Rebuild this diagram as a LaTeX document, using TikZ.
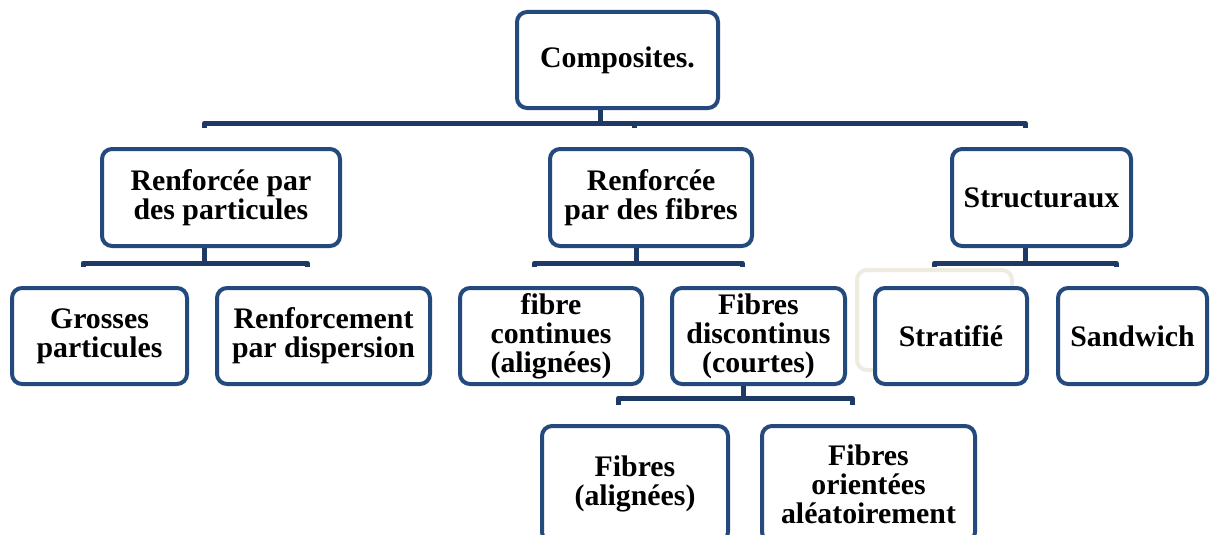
\documentclass[tikz,border=0pt]{standalone}
\usepackage{fontspec}
\setmainfont{Liberation Serif}
\definecolor{boxblue}{RGB}{35,73,125}
\definecolor{linkblue}{RGB}{30,58,100}
\definecolor{ghostbeige}{RGB}{238,236,225}
\tikzset{
  box/.style={draw=boxblue, line width=4pt, rounded corners=10pt, fill=white,
    align=center, inner sep=0pt,
    font=\bfseries\fontsize{29.8}{29}\selectfont},
  ghost/.style={draw=ghostbeige, line width=4pt, rounded corners=10pt, inner sep=0pt},
  link/.style={draw=linkblue, line width=5pt, line join=round}
}
\begin{document}
\begin{tikzpicture}[x=1pt, y=-1pt]
\clip (0,0) rectangle (1210,535);
\fill[white] (0,0) rectangle (1210,535);

% faint frame left behind the "Stratifié" box
\node[ghost, minimum width=155pt, minimum height=100pt] (strghost) at (934.5,320) {};

% level 0
\node[box, minimum width=201pt, minimum height=96pt] (comp) at (617.5,60) {Composites.};

% level 1
\node[box, minimum width=238pt, minimum height=97pt] (part) at (221,197.5) {Renforcée par\\des particules};
\node[box, minimum width=202pt, minimum height=97pt] (fib) at (651,197.5) {Renforcée\\par des fibres};
\node[box, minimum width=179pt, minimum height=97pt] (str) at (1041.5,197.5) {Structuraux};

% level 2
\node[box, minimum width=175pt, minimum height=96pt] (gros) at (99.5,336) {Grosses\\particules};
\node[box, minimum width=213pt, minimum height=96pt] (renf) at (323.5,336) {Renforcement\\par dispersion};
\node[box, minimum width=182pt, minimum height=96pt] (cont) at (551,336) {fibre\\continues\\(alignées)};
\node[box, minimum width=173pt, minimum height=96pt] (disc) at (758.5,336) {Fibres\\discontinus\\(courtes)};
\node[box, minimum width=152pt, minimum height=96pt] (strat) at (951,336) {Stratifié};
\node[box, minimum width=149pt, minimum height=96pt] (sand) at (1132.5,336) {Sandwich};

% level 3
\node[box, minimum width=186pt, minimum height=116pt] (align) at (635,484) {Fibres\\(alignées)};
\node[box, minimum width=213pt, minimum height=116pt] (orient) at (868.5,484) {Fibres\\orientées\\aléatoirement};

% stub ends above each child
\foreach \n in {part,fib,str,gros,renf,cont,disc,strat,sand,align,orient}
  \coordinate (\n-t) at ([xshift=-16.5pt,yshift=19pt]\n.north);

% Composites -> level 1
\coordinate (bus0) at ([xshift=-17.5pt,yshift=-13pt]comp.south);
\draw[link] ([xshift=-17.5pt]comp.south) -- (bus0);
\draw[link] (part-t) -- (part-t |- bus0) -- (str-t |- bus0) -- (str-t);
\draw[link] (fib-t) -- (fib-t |- bus0);

% particules -> children
\coordinate (bus1) at ([xshift=-16.5pt,yshift=-15pt]part.south);
\draw[link] ([xshift=-16.5pt]part.south) -- (bus1);
\draw[link] (gros-t) -- (gros-t |- bus1) -- (renf-t |- bus1) -- (renf-t);

% fibres -> children
\coordinate (bus2) at ([xshift=-15pt,yshift=-15pt]fib.south);
\draw[link] ([xshift=-15pt]fib.south) -- (bus2);
\draw[link] (cont-t) -- (cont-t |- bus2) -- (disc-t |- bus2) -- (disc-t);

% structuraux -> children
\coordinate (bus3) at ([xshift=-16.5pt,yshift=-15pt]str.south);
\draw[link] ([xshift=-16.5pt]str.south) -- (bus3);
\draw[link] (strat-t) -- (strat-t |- bus3) -- (sand-t |- bus3) -- (sand-t);

% discontinus -> children
\coordinate (bus4) at ([xshift=-15.5pt,yshift=-12pt]disc.south);
\draw[link] ([xshift=-15.5pt]disc.south) -- (bus4);
\draw[link] (align-t) -- (align-t |- bus4) -- (orient-t |- bus4) -- (orient-t);
\end{tikzpicture}
\end{document}
